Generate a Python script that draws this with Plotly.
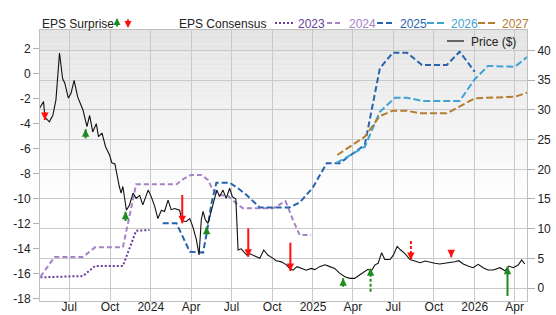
import plotly.graph_objects as go

# ---------------- data ----------------
price_dates = ["2023-04-25","2023-05-04","2023-05-07","2023-05-17","2023-05-25","2023-06-01","2023-06-09","2023-06-16",
    "2023-06-21","2023-06-29","2023-07-05","2023-07-12","2023-07-20","2023-08-01","2023-08-10","2023-08-16","2023-08-23",
    "2023-08-31","2023-09-05","2023-09-13","2023-09-21","2023-09-30","2023-10-05","2023-10-12","2023-10-22","2023-10-26",
    "2023-10-30","2023-11-07","2023-11-14","2023-11-22","2023-11-29","2023-12-07","2023-12-14","2023-12-26","2024-01-02",
    "2024-01-10","2024-01-17","2024-01-25","2024-02-01","2024-02-09","2024-02-16","2024-02-24","2024-03-06","2024-03-12",
    "2024-03-21","2024-03-29","2024-04-05","2024-04-13","2024-04-19","2024-04-24","2024-04-28","2024-05-03","2024-05-09",
    "2024-05-14","2024-05-22","2024-05-29","2024-06-04","2024-06-12","2024-06-19","2024-06-27","2024-07-03","2024-07-11",
    "2024-07-16","2024-07-23","2024-07-31","2024-08-07","2024-08-11","2024-08-19","2024-08-26","2024-09-03","2024-09-12",
    "2024-09-21","2024-10-03","2024-10-10","2024-10-22","2024-11-02","2024-11-09","2024-11-17","2024-11-26","2024-12-06",
    "2024-12-17","2024-12-28","2025-01-05","2025-01-16","2025-01-28","2025-02-08","2025-02-19","2025-03-02","2025-03-14",
    "2025-03-25","2025-04-05","2025-04-16","2025-04-28","2025-05-05","2025-05-13","2025-05-21","2025-05-28","2025-06-05",
    "2025-06-12","2025-06-24","2025-07-01","2025-07-10","2025-07-18","2025-07-27","2025-08-08","2025-08-19","2025-08-31",
    "2025-09-11","2025-09-22","2025-10-03","2025-10-14","2025-10-26","2025-11-06","2025-11-17","2025-11-26","2025-12-06",
    "2025-12-17","2025-12-28","2026-01-09","2026-01-20","2026-01-31","2026-02-12","2026-02-27","2026-03-10","2026-03-19",
    "2026-03-29","2026-04-09","2026-04-17","2026-04-24"]
price_values = [30.3,31.4,28.8,28.0,29.1,31.7,39.6,35.3,
    34.5,32.0,32.8,35.0,32.2,30.0,27.2,29.1,26.3,
    27.7,25.5,26.1,23.8,22.4,21.1,20.9,17.1,16.0,
    17.1,13.1,14.0,16.0,15.1,15.6,14.0,16.5,15.4,
    13.7,11.7,13.1,12.9,14.8,13.2,13.4,13.1,11.3,
    11.2,11.7,10.3,8.1,5.56,11.5,12.9,11.5,10.9,
    12.3,14.8,16.5,15.4,16.5,15.1,16.8,15.4,15.0,
    6.4,6.6,5.9,5.4,5.8,5.56,5.27,5.0,6.4,
    5.56,5.0,4.6,4.4,3.9,3.3,3.0,3.6,3.3,
    3.0,3.3,3.1,3.6,3.9,3.6,3.3,2.5,1.9,
    1.63,1.63,2.2,2.75,3.15,2.9,3.9,4.16,5.95,
    4.8,4.8,5.5,7.0,6.4,5.85,4.8,4.6,4.26,
    4.55,4.3,4.16,4.04,4.16,4.26,4.43,4.6,4.04,
    3.7,3.42,3.99,3.42,3.03,3.03,3.42,2.9,3.7,
    3.42,3.88,4.72,4.04]

eps_2023_dates = ["2023-04-27","2023-08-01","2023-08-28","2023-10-30","2023-11-29","2023-12-29"]
eps_2023 = [-16.27,-16.17,-15.37,-15.37,-12.55,-12.5]

eps_2024_dates = ["2023-04-27","2023-05-29","2023-08-01","2023-08-28","2023-10-30","2023-11-29","2024-02-28",
    "2024-03-17","2024-04-01","2024-04-24","2024-05-09","2024-05-20","2024-06-04","2024-06-23","2024-07-12",
    "2024-07-27","2024-10-03","2024-10-31","2024-11-17","2024-12-02","2024-12-28"]
eps_2024 = [-16.22,-14.65,-14.65,-13.88,-13.88,-8.85,-8.85,
    -8.37,-8.1,-8.1,-8.5,-9.3,-9.7,-9.78,-10.37,
    -10.76,-10.76,-10.2,-11.7,-12.9,-12.9]

eps_2025_dates = ["2024-01-28","2024-02-28","2024-03-29","2024-04-16","2024-04-28","2024-05-06","2024-05-17",
    "2024-05-28","2024-06-27","2024-07-16","2024-08-04","2024-09-03","2024-11-09","2024-12-02","2024-12-31",
    "2025-02-01","2025-03-02","2025-04-28","2025-06-01","2025-06-30","2025-08-01","2025-09-04","2025-10-30",
    "2025-11-28","2026-01-01"]
eps_2025 = [-11.96,-11.96,-14.23,-14.3,-14.3,-12.8,-10.37,
    -8.72,-8.72,-9.17,-9.7,-10.7,-10.7,-10.3,-9.15,
    -7.17,-7.17,-5.7,0.4,1.65,1.65,0.67,0.67,
    1.73,0.13]

eps_2026_dates = ["2025-02-23","2025-04-28","2025-06-01","2025-07-05","2025-08-01","2025-09-04","2025-11-28",
    "2026-01-01","2026-01-31","2026-04-02","2026-04-29"]
eps_2026 = [-7.15,-5.85,-3.06,-1.94,-1.94,-2.2,-2.2,-0.47,0.59,0.53,1.3]

eps_2027_dates = ["2025-02-25","2025-04-28","2025-06-01","2025-06-30","2025-08-01","2025-08-30","2025-10-30",
    "2026-01-01","2026-04-02","2026-04-29"]
eps_2027 = [-6.51,-5.05,-3.4,-2.98,-2.98,-3.19,-3.19,-1.99,-1.86,-1.54]

surprise_dates = ["2023-05-07","2023-08-07","2023-11-05","2024-03-12","2024-05-06","2024-08-08",
    "2024-11-11","2025-03-10","2025-05-11","2025-08-10","2025-11-09","2026-03-16"]
surprise_from = [29.65,25.22,11.29,15.67,9.49,10.06,7.63,0.22,-0.62,7.92,6.4,-1.35]
surprise_to = [28.3,26.74,12.86,10.9,10.33,5.27,2.86,1.63,3.32,4.72,5.17,3.59]
surprise_estimated = [False,False,False,False,False,False,False,False,True,True,False,False]

x_tick_vals = ["2023-07-01","2023-10-01","2024-01-01","2024-04-01","2024-07-01","2024-10-01",
    "2025-01-01","2025-04-01","2025-07-01","2025-10-01","2026-01-01","2026-04-01"]
x_tick_text = ["Jul","Oct","2024","Apr","Jul","Oct","2025","Apr","Jul","Oct","2026","Apr"]
eps_ticks = [-18,-16,-14,-12,-10,-8,-6,-4,-2,0,2]
price_ticks = [0,5,10,15,20,25,30,35,40]

series = [
    ("2023", eps_2023_dates, eps_2023, "#6a3d9a", "2px,2px"),
    ("2024", eps_2024_dates, eps_2024, "#a683c9", "5px,3px"),
    ("2025", eps_2025_dates, eps_2025, "#2763ae", "6px,3px"),
    ("2026", eps_2026_dates, eps_2026, "#3fa3d6", "7px,3px"),
    ("2027", eps_2027_dates, eps_2027, "#b47d30", "7px,3px"),
]

FONT = "Liberation Sans, Arial, sans-serif"
GREEN = "#208a20"
RED = "#ff1010"

# ---------------- figure ----------------
fig = go.Figure()

for name, d, v, c, dash in series:
    fig.add_trace(go.Scatter(x=d, y=v, mode="lines", name=name, yaxis="y",
                             line=dict(color=c, width=2, dash=dash), showlegend=False))

fig.add_trace(go.Scatter(x=price_dates, y=price_values, mode="lines", name="Price ($)", yaxis="y2",
                         line=dict(color="#111111", width=1.1), showlegend=False))

# surprise arrow shafts
for est in (False, True):
    for up in (True, False):
        xs, ys = [], []
        for d, f, t, e in zip(surprise_dates, surprise_from, surprise_to, surprise_estimated):
            if e == est and (t > f) == up:
                xs += [d, d, None]
                ys += [f, t, None]
        if xs:
            fig.add_trace(go.Scatter(x=xs, y=ys, mode="lines", yaxis="y2", showlegend=False,
                                     line=dict(color=GREEN if up else RED, width=2,
                                               dash="3px,2px" if est else "solid")))

annotations = []
for d, f, t in zip(surprise_dates, surprise_from, surprise_to):
    up = t > f
    annotations.append(dict(x=d, y=t, xref="x", yref="y2", text="", showarrow=True,
                            ax=0, ay=8 if up else -8, arrowhead=2, arrowsize=0.75, arrowwidth=2,
                            arrowcolor=GREEN if up else RED))

# ---------------- manual legend ----------------
L, R, T, B = 40, 527, 30, 301
W, H = R - L, B - T
def px(xp):
    return (xp - L) / W
def py(yp):
    return (B - yp) / H

shapes = []
# gradient background
n = 60
for i in range(n):
    f0 = i / n
    g = int(round(0xe4 + (0xff - 0xe4) * min(1.0, f0 / 0.62)))
    col = "#%02x%02x%02x" % (g, g, g)
    shapes.append(dict(type="rect", xref="paper", yref="paper", x0=0, x1=1,
                       y0=1 - (i + 1) / n, y1=1 - i / n, fillcolor=col, line=dict(width=0),
                       layer="below"))

LEG_Y = 24
annotations.append(dict(x=px(40), y=py(LEG_Y), xref="paper", yref="paper", text="EPS Surprise",
                        showarrow=False, xanchor="left", yanchor="middle",
                        font=dict(family=FONT, size=12, color="#222222")))
annotations.append(dict(x=px(117), y=py(18), xref="paper", yref="paper", text="", showarrow=True,
                        ax=0, ay=10, arrowhead=2, arrowsize=0.7, arrowwidth=2, arrowcolor=GREEN))
annotations.append(dict(x=px(128), y=py(28), xref="paper", yref="paper", text="", showarrow=True,
                        ax=0, ay=-10, arrowhead=2, arrowsize=0.7, arrowwidth=2, arrowcolor=RED))
annotations.append(dict(x=px(177), y=py(LEG_Y), xref="paper", yref="paper", text="EPS Consensus",
                        showarrow=False, xanchor="left", yanchor="middle",
                        font=dict(family=FONT, size=12, color="#222222")))

leg_x = [(275, 293, 296), (327, 343, 347), (377, 395, 398), (427, 447, 449), (478, 497, 500)]
for (name, d, v, c, dash), (x0, x1, xt) in zip(series, leg_x):
    shapes.append(dict(type="line", xref="paper", yref="paper", x0=px(x0), x1=px(x1),
                       y0=py(23), y1=py(23), line=dict(color=c, width=2, dash=dash)))
    annotations.append(dict(x=px(xt), y=py(LEG_Y), xref="paper", yref="paper", text=name,
                            showarrow=False, xanchor="left", yanchor="middle",
                            font=dict(family=FONT, size=12, color=c)))

shapes.append(dict(type="line", xref="paper", yref="paper", x0=px(447), x1=px(464),
                   y0=py(41), y1=py(41), line=dict(color="#666666", width=2)))
annotations.append(dict(x=px(469), y=py(42), xref="paper", yref="paper", text="Price ($)",
                        showarrow=False, xanchor="left", yanchor="middle",
                        font=dict(family=FONT, size=12, color="#222222")))

grid = "#c9c9c9"
fig.update_layout(
    width=556, height=315,
    margin=dict(l=L, r=556 - R, t=T, b=315 - B, pad=0),
    paper_bgcolor="white", plot_bgcolor="rgba(0,0,0,0)",
    font=dict(family=FONT, size=12, color="#222222"),
    showlegend=False,
    hovermode=False,
    shapes=shapes, annotations=annotations,
    xaxis=dict(type="date", range=["2023-04-26", "2026-04-29"], tickvals=x_tick_vals, ticktext=x_tick_text,
               showgrid=True, gridcolor=grid, gridwidth=1, showline=True, linecolor="#c0c0c0",
               mirror=True, ticks="", automargin=False, ticklabelstandoff=-5,
               tickfont=dict(size=12, color="#222222")),
    yaxis=dict(range=[-18.16, 3.46], tickvals=eps_ticks, ticktext=[str(t) for t in eps_ticks],
               showgrid=False, zeroline=False, showline=True, linecolor="#c0c0c0", mirror=True,
               ticks="outside", ticklen=6, tickcolor="#b0b0b0", automargin=False,
               tickfont=dict(size=12, color="#222222")),
    yaxis2=dict(range=[-2.19, 43.47], overlaying="y", side="right", tickvals=price_ticks,
                ticktext=[str(t) for t in price_ticks], showgrid=True, gridcolor=grid, gridwidth=1,
                zeroline=False, showline=False, ticks="outside", ticklen=7, tickcolor="#b0b0b0",
                automargin=False, tickfont=dict(size=12, color="#222222")),
)

fig.write_html("out.html")
